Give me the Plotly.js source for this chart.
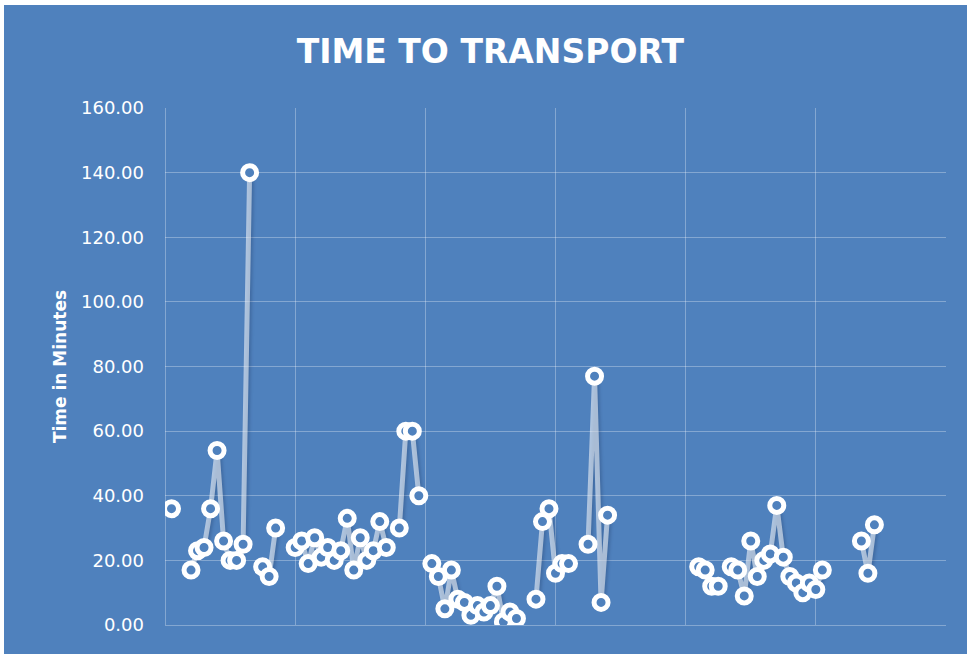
<!DOCTYPE html>
<html>
<head>
<meta charset="utf-8">
<script src="https://cdn.plot.ly/plotly-3.0.1.min.js"></script>
<style>
  html, body { margin: 0; padding: 0; background: #ffffff; }
  #chart { position: absolute; left: 4px; top: 5px; width: 963px; height: 649px; }
  /* soft shadow under the connecting lines */
  #chart .scatterlayer .js-line { filter: drop-shadow(2px 2px 1.5px rgba(20, 40, 80, 0.45)); }
</style>
</head>
<body>
<div id="chart"></div>
<script>
// Record number along the category axis
const recordIndex = [
  1, 2, 3, 4, 5, 6, 7, 8, 9, 10, 11, 12, 13, 14, 15, 16, 17, 18, 19, 20,
  21, 22, 23, 24, 25, 26, 27, 28, 29, 30, 31, 32, 33, 34, 35, 36, 37, 38, 39, 40,
  41, 42, 43, 44, 45, 46, 47, 48, 49, 50, 51, 52, 53, 54, 55, 56, 57, 58, 59, 60,
  61, 62, 63, 64, 65, 66, 67, 68, 69, 70, 71, 72, 73, 74, 75, 76, 77, 78, 79, 80,
  81, 82, 83, 84, 85, 86, 87, 88, 89, 90, 91, 92, 93, 94, 95, 96, 97, 98, 99, 100,
  101, 102, 103, 104, 105, 106, 107, 108, 109
];

// Minutes to transport (null = no record)
const minutesToTransport = [
  36, null, null, 17, 23, 24, 36, 54, 26, 20, 20, 25, 140, null, 18, 15, 30, null, null, 24,
  26, 19, 27, 21, 24, 20, 23, 33, 17, 27, 20, 23, 32, 24, null, 30, 60, 60, 40, null,
  19, 15, 5, 17, 8, 7, 3, 6, 4, 6, 12, 1, 4, 2, null, null, 8, 32, 36, 16,
  19, 19, null, null, 25, 77, 7, 34, null, null, null, null, null, null, null, null, null, null, null, null,
  null, 18, 17, 12, 12, null, 18, 17, 9, 26, 15, 20, 22, 37, 21, 15, 13, 10, 13, 11,
  17, null, null, null, null, null, 26, 16, 31
];

const yTickValues = [0, 20, 40, 60, 80, 100, 120, 140, 160];
const yTickLabels = ['0.00', '20.00', '40.00', '60.00', '80.00', '100.00', '120.00', '140.00', '160.00'];

const chartTitle = 'TIME TO TRANSPORT';
const yAxisTitle = 'Time in Minutes';

const bg = '#4f81bd';
const grid = 'rgba(255,255,255,0.30)';

const trace = {
  x: recordIndex,
  y: minutesToTransport,
  type: 'scatter',
  mode: 'lines+markers',
  connectgaps: false,
  line: { color: 'rgba(255,255,255,0.55)', width: 5 },
  marker: {
    symbol: 'circle',
    size: 14,
    color: bg,
    line: { color: '#ffffff', width: 5 }
  },
  hoverinfo: 'x+y'
};

const layout = {
  width: 963,
  height: 649,
  paper_bgcolor: bg,
  plot_bgcolor: bg,
  margin: { l: 161, r: 21, t: 103, b: 29 },
  showlegend: false,
  title: {
    text: '<b>' + chartTitle + '</b>',
    font: { family: 'DejaVu Sans', size: 33, color: '#ffffff' },
    xref: 'container', x: 0.505, xanchor: 'center',
    yref: 'container', y: 0.929, yanchor: 'middle'
  },
  xaxis: {
    range: [0, 120],
    tick0: 0,
    dtick: 20,
    showticklabels: false,
    ticks: '',
    showgrid: true,
    gridcolor: grid,
    gridwidth: 1,
    zeroline: true,
    zerolinecolor: grid,
    zerolinewidth: 1,
    showline: false,
    fixedrange: true
  },
  yaxis: {
    range: [0, 160],
    tickvals: yTickValues,
    ticktext: yTickLabels,
    tickfont: { family: 'DejaVu Sans', size: 18, color: '#ffffff' },
    ticklabelstandoff: 20,
    ticks: '',
    showgrid: true,
    gridcolor: grid,
    gridwidth: 1,
    zeroline: true,
    zerolinecolor: grid,
    zerolinewidth: 1,
    showline: false,
    automargin: false,
    fixedrange: true,
    title: {
      text: '<b>' + yAxisTitle + '</b>',
      font: { family: 'DejaVu Sans', size: 17, color: '#ffffff' },
      standoff: 10
    }
  }
};

Plotly.newPlot('chart', [trace], layout, { displayModeBar: false, staticPlot: false });
</script>
</body>
</html>
